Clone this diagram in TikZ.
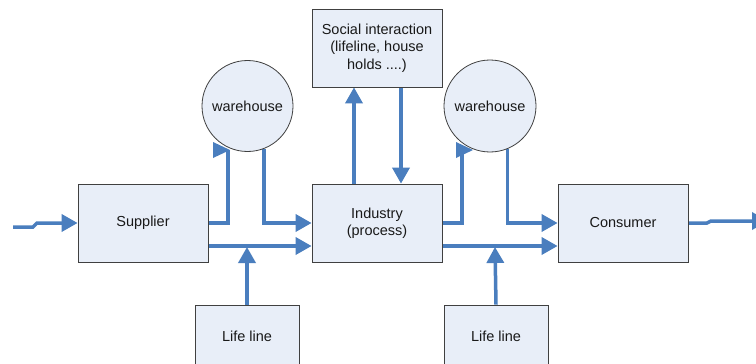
\documentclass[tikz,border=0pt]{standalone}
\usepackage{fontspec}
\setmainfont{Liberation Sans}
\usetikzlibrary{arrows.meta,backgrounds}
\definecolor{flowc}{RGB}{74,126,190}
\definecolor{boxfill}{RGB}{232,238,248}
\begin{document}
\begin{tikzpicture}[x=1pt,y=-1pt,
  txt/.style={font=\fontsize{14.5}{17.5}\selectfont, align=center, text=black!90},
  box/.style={txt, draw=black!75, line width=0.8pt, fill=boxfill, inner sep=0pt,
    minimum width=130pt, minimum height=78pt},
  lifebox/.style={box, minimum width=104pt, minimum height=63pt},
  store/.style={txt, circle, draw=black!75, line width=0.8pt, fill=boxfill, inner sep=0pt},
  flow/.style={draw=flowc, line width=3.5pt, -{Triangle[length=16pt,width=17pt]}},
  plainflow/.style={draw=flowc, line width=3.5pt},
  head/.style={fill=flowc}
]
\clip (0,0) rectangle (756,364);

\node[box] (sup) at (143,223) {Supplier};
\node[box] (ind) at (377,223) {Industry\\(process)};
\node[box] (cons) at (623,223) {Consumer};
\node[box] (soc) at (377,48) {Social interaction\\(lifeline, house\\holds ....)};
\node[lifebox] (life1) at (247,336.5) {Life line};
\node[lifebox] (life2) at (496,336.5) {Life line};
\node[store, minimum size=91pt] (wh1) at (247.5,106) {warehouse};
\node[store, minimum size=92pt] (wh2) at (490,106) {warehouse};

\coordinate (in) at (13,227);
\coordinate (out) at (768,221);
\coordinate (w1in) at (228,150);
\coordinate (w2in) at (462,150);

\begin{pgfonlayer}{background}
  \fill[white] (0,0) rectangle (756,364);
  % input
  \draw[flow] (in) -- (33,227) -- (37,223) -- (sup.west);
  % supplier -> warehouse 1
  \draw[plainflow] (sup.east) -| (w1in);
  \fill[head] (213,142) -- (213,158) -- (230,150) -- cycle;
  % warehouse 1 -> industry
  \draw[flow] (wh1.-69) |- (ind.west);
  % supplier -> industry (lower)
  \draw[flow] ([yshift=-23pt]sup.east) -- ([yshift=-23pt]ind.west);
  % life line 1 up
  \draw[flow] (life1.north) -- (247,247);
  % industry <-> social
  \draw[flow] ([xshift=-23pt]ind.north) -- ([xshift=-23pt]soc.south);
  \draw[flow] ([xshift=24pt]soc.south) -- ([xshift=24pt]ind.north);
  % industry -> warehouse 2
  \draw[plainflow] (ind.east) -| (w2in);
  \fill[head] (456,142) -- (456,158) -- (473,150) -- cycle;
  % warehouse 2 -> consumer
  \draw[flow] (wh2.-68) |- (cons.west);
  % industry -> consumer (lower)
  \draw[flow] ([yshift=-23pt]ind.east) -- ([yshift=-23pt]cons.west);
  % life line 2 up
  \draw[flow] (life2.north) -- (495,247);
  % output
  \draw[flow] (cons.east) -- (707,223) -- (711,221) -- (out);
\end{pgfonlayer}
\end{tikzpicture}
\end{document}
